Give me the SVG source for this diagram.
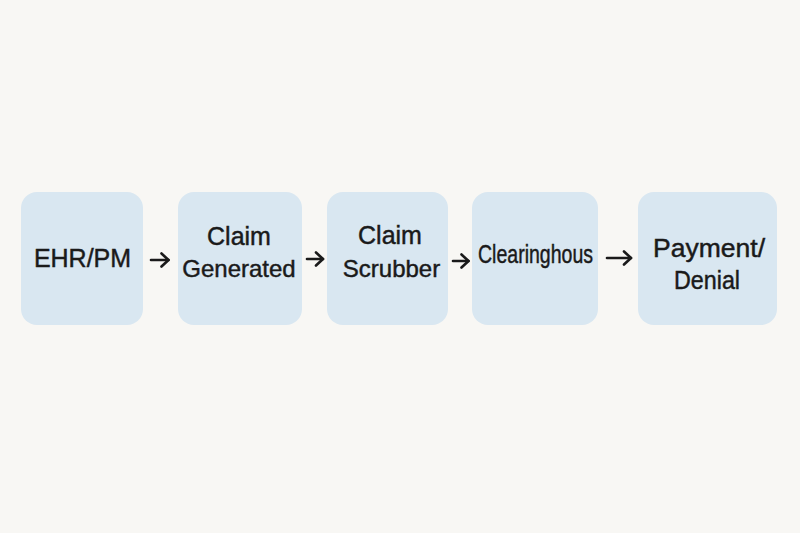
<svg xmlns="http://www.w3.org/2000/svg" width="800" height="533" viewBox="0 0 800 533">
<defs>
<style>
.box{fill:#d9e7f1;}
.t{font-family:"Liberation Sans",Arial,sans-serif;font-size:24px;fill:#1a1a1a;stroke:#1a1a1a;stroke-width:0.45;text-anchor:middle;}
.c{stroke:#1a1a1a;stroke-width:2.6;fill:none;stroke-linecap:round;stroke-linejoin:round;}
</style>
<marker id="ah" viewBox="0 0 12 16" refX="10.5" refY="8" markerWidth="12" markerHeight="16" markerUnits="userSpaceOnUse" orient="auto">
<path d="M3.5,1.5 L10.5,8 L3.5,14.5" fill="none" stroke="#1a1a1a" stroke-width="2.6" stroke-linecap="round" stroke-linejoin="round"/>
</marker>
</defs>
<rect width="800" height="533" fill="#f8f7f4"/>
<g id="node-ehr">
<rect class="box" x="21" y="192" width="122" height="133" rx="16"/>
<text class="t" x="82.5" y="267" style="font-size:25px">EHR/PM</text>
</g>
<g id="node-claim-generated">
<rect class="box" x="178" y="192" width="124" height="133" rx="16"/>
<text class="t" x="239" y="245" style="font-size:25px">Claim</text>
<text class="t" x="239" y="277">Generated</text>
</g>
<g id="node-claim-scrubber">
<rect class="box" x="327" y="192" width="121" height="133" rx="16"/>
<text class="t" x="390" y="244" style="font-size:25px">Claim</text>
<text class="t" x="391.5" y="277">Scrubber</text>
</g>
<g id="node-clearinghouse">
<rect class="box" x="472" y="192" width="126" height="133" rx="16"/>
<text class="t" x="535.5" y="263" style="font-size:25px" textLength="115" lengthAdjust="spacingAndGlyphs">Clearinghous</text>
</g>
<g id="node-payment">
<rect class="box" x="638" y="192" width="139" height="133" rx="16"/>
<text class="t" x="709" y="257" style="font-size:25px" textLength="112" lengthAdjust="spacingAndGlyphs">Payment/</text>
<text class="t" x="707" y="289" style="font-size:25px" textLength="66" lengthAdjust="spacingAndGlyphs">Denial</text>
</g>
<g id="connectors">
<line class="c" x1="151" y1="260" x2="168.5" y2="260" marker-end="url(#ah)"/>
<line class="c" x1="307" y1="259" x2="323" y2="259" marker-end="url(#ah)"/>
<line class="c" x1="453" y1="261" x2="468.5" y2="261" marker-end="url(#ah)"/>
<line class="c" x1="607" y1="258" x2="631" y2="258" marker-end="url(#ah)"/>
</g>
</svg>
